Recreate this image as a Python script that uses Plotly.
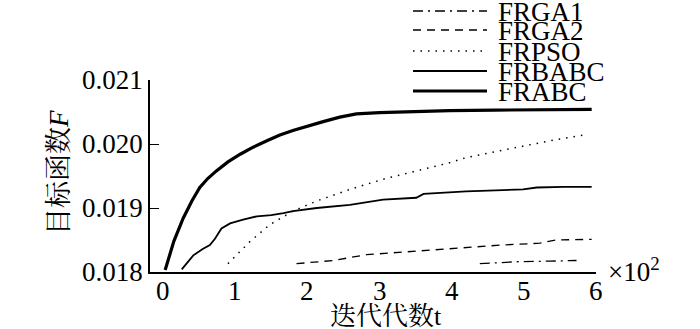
import plotly.graph_objects as go

# x in units of 10^2 iterations
frabc_x = [0.03, 0.15, 0.28, 0.40, 0.51, 0.62, 0.74, 0.90, 1.07, 1.25, 1.44, 1.62, 1.80, 2.00, 2.22, 2.45, 2.68, 3.0, 3.28, 3.97, 4.6, 5.3, 5.94]
frabc_y = [0.01803, 0.01848, 0.01884, 0.01911, 0.01932, 0.01946, 0.01958, 0.01972, 0.01984, 0.01995, 0.02005, 0.02014, 0.02021, 0.02028, 0.02035, 0.02042, 0.02047, 0.02049, 0.0205, 0.02052, 0.02053, 0.02054, 0.02054]

frbabc_x = [0.26, 0.34, 0.42, 0.55, 0.65, 0.72, 0.81, 0.93, 1.11, 1.30, 1.50, 1.67, 1.80, 2.13, 2.59, 3.05, 3.51, 3.61, 3.98, 4.20, 4.99, 5.18, 5.55, 5.94]
frbabc_y = [0.01804, 0.01815, 0.01826, 0.01836, 0.01842, 0.01852, 0.01868, 0.01876, 0.01882, 0.01887, 0.01889, 0.01892, 0.01895, 0.01900, 0.01905, 0.01913, 0.01916, 0.01922, 0.01924, 0.01926, 0.01929, 0.01932, 0.01933, 0.01933]

frpso_x = [0.90, 1.20, 1.48, 1.80, 2.13, 2.59, 3.05, 3.51, 3.98, 4.21, 4.90, 5.36, 5.87]
frpso_y = [0.01813, 0.01847, 0.01874, 0.01895, 0.01911, 0.01929, 0.01945, 0.01958, 0.01971, 0.01979, 0.01995, 0.02005, 0.02015]

frga2_x = [1.85, 2.36, 2.82, 3.51, 3.98, 4.67, 5.22, 5.45, 5.94]
frga2_y = [0.01813, 0.01818, 0.01827, 0.01833, 0.01836, 0.01842, 0.01845, 0.01850, 0.01851]

frga1_x = [4.39, 4.90, 5.36, 5.73]
frga1_y = [0.01813, 0.01816, 0.01817, 0.01818]

x_ticks = [0, 1, 2, 3, 4, 5, 6]
x_tick_labels = ["0", "1", "2", "3", "4", "5", "6"]
y_ticks = [0.018, 0.019, 0.020, 0.021]
y_tick_labels = ["0.018", "0.019", "0.020", "0.021"]

names = ["FRGA1", "FRGA2", "FRPSO", "FRBABC", "FRABC"]
dashes = ["10px,5px,2px,5px", "8px,6px", "1.5px,6px", "solid", "solid"]
widths = [1.3, 1.3, 1.5, 1.8, 3.2]
xs = [frga1_x, frga2_x, frpso_x, frbabc_x, frabc_x]
ys = [frga1_y, frga2_y, frpso_y, frbabc_y, frabc_y]

W, H = 700, 329
L, R, T, B = 150, 104, 80, 57
pw, ph = W - L - R, H - T - B

def px(x):
    return (x - L) / pw

def py(y):
    return 1 - (y - T) / ph

SERIF = "Liberation Serif, Noto Serif CJK SC, Noto Sans CJK SC, serif"
FS = 27

fig = go.Figure()
for n, x, y, d, w in zip(names, xs, ys, dashes, widths):
    fig.add_trace(go.Scatter(x=x, y=y, mode="lines", name=n, showlegend=False,
                             line=dict(color="black", width=w, dash=d)))

# manual legend
leg_y = [11, 30, 51, 71, 91]
shapes = []
annotations = []
for n, d, w, yy in zip(names, dashes, widths, leg_y):
    shapes.append(dict(type="line", xref="paper", yref="paper",
                       x0=px(413), x1=px(487), y0=py(yy), y1=py(yy),
                       line=dict(color="black", width=w, dash=d)))
    annotations.append(dict(xref="paper", yref="paper", x=px(496), y=py(yy + 1),
                            text=n, showarrow=False, xanchor="left", yanchor="middle",
                            font=dict(family=SERIF, size=27, color="black")))

# x tick labels placed via the x scale
for v, t in zip(x_ticks, x_tick_labels):
    annotations.append(dict(xref="x", yref="paper", x=v, y=py(291), text=t,
                            showarrow=False, xanchor="center", yanchor="middle",
                            font=dict(family=SERIF, size=FS, color="black")))

annotations.append(dict(xref="paper", yref="paper", x=px(606), y=py(270),
                        text="×10<sup>2</sup>", showarrow=False, xanchor="left",
                        yanchor="middle", font=dict(family=SERIF, size=FS, color="black")))
# axis titles
annotations.append(dict(xref="paper", yref="paper", x=px(386), y=py(316),
                        text="迭代代数t", showarrow=False, xanchor="center",
                        yanchor="middle", font=dict(family=SERIF, size=26, color="black")))
annotations.append(dict(xref="paper", yref="paper", x=px(59), y=py(173),
                        text="目标函数<i>F</i>", showarrow=False, xanchor="center",
                        yanchor="middle", textangle=-90,
                        font=dict(family=SERIF, size=27, color="black")))

fig.update_layout(
    width=W, height=H,
    margin=dict(l=L, r=R, t=T, b=B, pad=0),
    paper_bgcolor="white", plot_bgcolor="white",
    font=dict(family=SERIF, size=FS, color="black"),
    shapes=shapes, annotations=annotations,
    xaxis=dict(range=[-0.18, 6], tickvals=x_ticks, ticks="", showticklabels=False,
               showgrid=False, zeroline=False, showline=True, linecolor="black",
               linewidth=1.5, automargin=False),
    yaxis=dict(range=[0.018, 0.021], tickvals=y_ticks, ticktext=y_tick_labels,
               ticks="inside", ticklen=9, tickcolor="black", showgrid=False,
               zeroline=False, showline=True, linecolor="black", linewidth=1.5,
               automargin=False, tickfont=dict(family=SERIF, size=FS)),
)

fig.write_html("out.html", config={"displayModeBar": False},
               post_script="document.body.style.margin='0';document.body.style.overflow='hidden';")
